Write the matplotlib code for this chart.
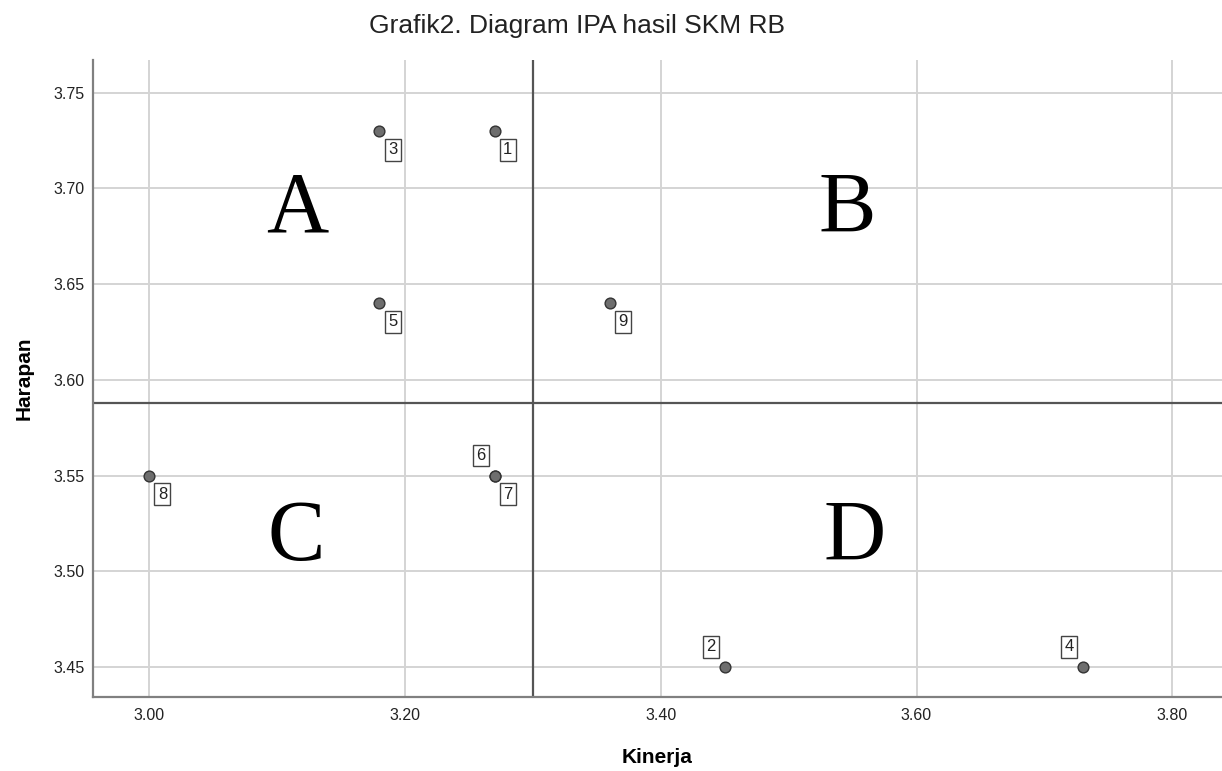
import matplotlib
matplotlib.use("Agg")
import matplotlib.pyplot as plt

plt.rcParams["font.family"] = ["Liberation Sans", "DejaVu Sans"]

# IPA data: kinerja (x) vs harapan (y), per item
items = ["1", "2", "3", "4", "5", "6", "7", "8", "9"]
kinerja = [3.27, 3.45, 3.18, 3.73, 3.18, 3.27, 3.27, 3.00, 3.36]
harapan = [3.73, 3.45, 3.73, 3.45, 3.64, 3.55, 3.55, 3.55, 3.64]
# label placement: "lr" = below right, "ul" = above left
label_side = ["lr", "ul", "lr", "ul", "lr", "ul", "lr", "lr", "lr"]

mean_kinerja = 3.30
mean_harapan = 3.588

xticks = [3.00, 3.20, 3.40, 3.60, 3.80]
yticks = [3.45, 3.50, 3.55, 3.60, 3.65, 3.70, 3.75]

quadrants = ["A", "B", "C", "D"]
quad_x = [3.116, 3.546, 3.115, 3.552]
quad_y = [3.6775, 3.6775, 3.506, 3.506]

fig = plt.figure(figsize=(12.22, 7.71), dpi=100)
ax = fig.add_axes([0.0761, 0.096, 0.924, 0.826])

ax.set_xlim(2.956, 3.839)
ax.set_ylim(3.4343, 3.767)
ax.set_xticks(xticks)
ax.set_yticks(yticks)
ax.set_xticklabels([f"{v:.2f}" for v in xticks], fontsize=11.5, color="#222222")
ax.set_yticklabels([f"{v:.2f}" for v in yticks], fontsize=11.5, color="#222222")
ax.tick_params(axis="x", length=0, pad=8)
ax.tick_params(axis="y", length=0, pad=6)
ax.grid(True, color="#d4d4d4", linewidth=1.4)
ax.set_axisbelow(True)

for s in ["top", "right"]:
    ax.spines[s].set_visible(False)
for s in ["left", "bottom"]:
    ax.spines[s].set_color("#808080")
    ax.spines[s].set_linewidth(1.6)

ax.axvline(mean_kinerja, color="#555555", linewidth=1.6, zorder=2)
ax.axhline(mean_harapan, color="#555555", linewidth=1.6, zorder=2)

ax.scatter(kinerja, harapan, s=60, color="#6e6e6e", edgecolor="#333333",
           linewidth=1.0, zorder=4)

for lab, x, y, side in zip(items, kinerja, harapan, label_side):
    off = (9.5, -13.5) if side == "lr" else (-10, 14.5)
    ax.annotate(lab, (x, y), xytext=off, textcoords="offset points",
                ha="center", va="center", fontsize=12, color="#222222",
                bbox=dict(boxstyle="square,pad=0.2", fc="white",
                          ec="#444444", lw=1.0), zorder=5)

for q, x, y in zip(quadrants, quad_x, quad_y):
    ax.text(x, y, q, ha="center", va="baseline", fontsize=62,
            family=["Liberation Serif", "DejaVu Serif"], color="black")

ax.set_xlabel("Kinerja", fontsize=15, fontweight="bold", labelpad=18)
ax.set_ylabel("Harapan", fontsize=15, fontweight="bold", labelpad=14)
fig.text(0.472, 0.966, "Grafik2. Diagram IPA hasil SKM RB", ha="center",
         va="center", fontsize=19, color="#222222")

fig.savefig("out.png", dpi=100)
